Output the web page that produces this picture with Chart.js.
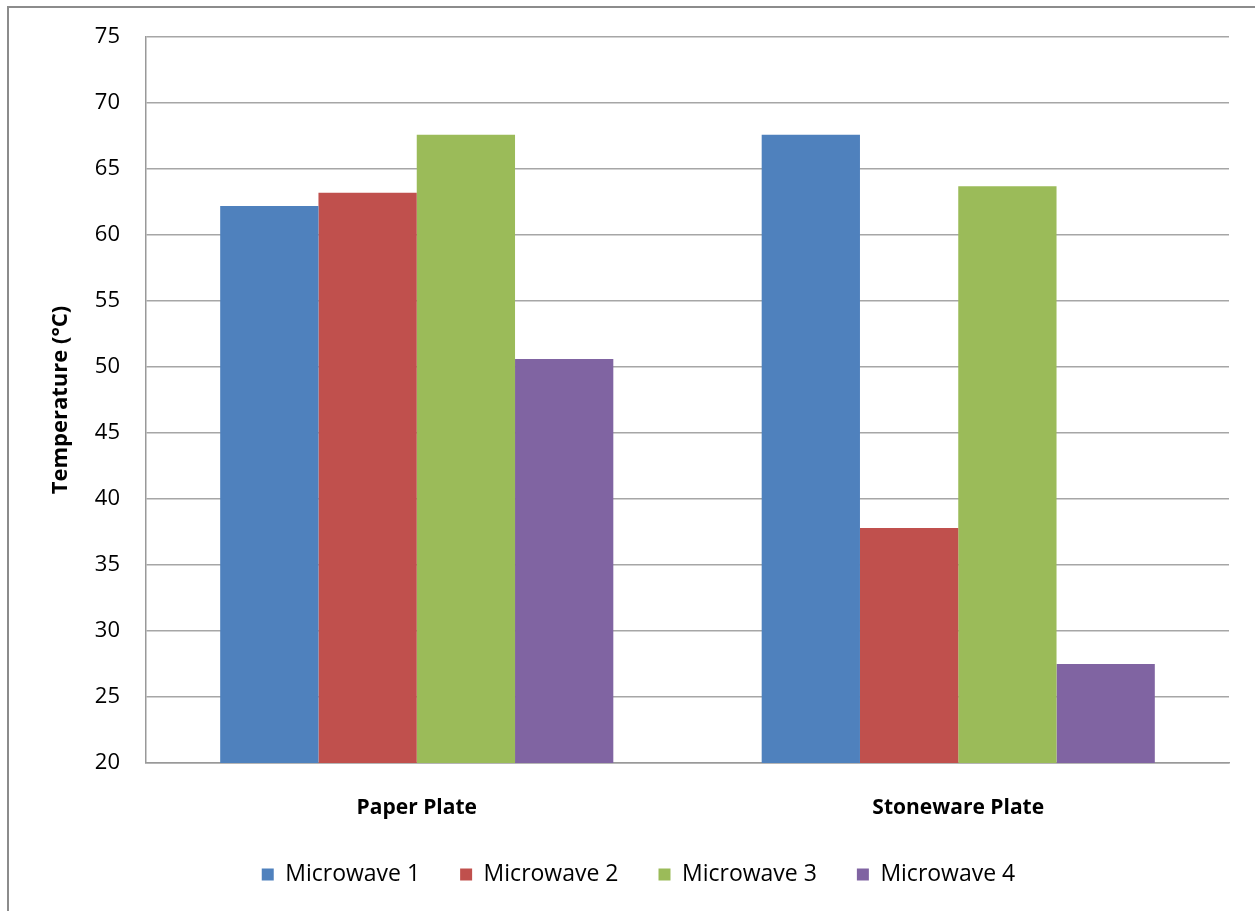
<!DOCTYPE html>
<html>
<head>
<meta charset="utf-8">
<title>Plate temperature by microwave</title>
<script src="https://cdn.jsdelivr.net/npm/chart.js@4.4.1/dist/chart.umd.min.js"></script>
<style>
    html, body {
        margin: 0;
        padding: 0;
        background: #fff;
    }
    #frame {
        position: absolute;
        left: 7px;
        top: 6px;
        width: 1300px;
        height: 1000px;
        border-left: 2px solid #8c8c8c;
        border-top: 2px solid #8c8c8c;
    }
    #wrap {
        position: absolute;
        left: 0;
        top: 0;
        width: 1255px;
        height: 911px;
    }
</style>
</head>
<body>
<div id="frame"></div>
<div id="wrap"><canvas id="tempChart" width="1255" height="911"></canvas></div>

<script>
const plates = ['Paper Plate', 'Stoneware Plate'];

const microwave1 = [62.2, 67.6];
const microwave2 = [63.2, 37.8];
const microwave3 = [67.6, 63.7];
const microwave4 = [50.6, 27.5];

const seriesNames = ['Microwave 1', 'Microwave 2', 'Microwave 3', 'Microwave 4'];
const seriesColors = ['#4f81bd', '#c0504d', '#9bbb59', '#8064a2'];

const yTicks = [20, 25, 30, 35, 40, 45, 50, 55, 60, 65, 70, 75];

const fontFamily = '"Open Sans", "Liberation Sans", sans-serif';

const values = [microwave1, microwave2, microwave3, microwave4];

const datasets = seriesNames.map((name, i) => ({
    label: name,
    data: values[i],
    backgroundColor: seriesColors[i],
    borderWidth: 0,
    barPercentage: 1.0,
    categoryPercentage: 0.726
}));

// legend row sits a little right of the canvas centre
const legendNudge = {
    id: 'legendNudge',
    afterLayout(chart) {
        const lg = chart.legend;
        if (!lg) return;
        lg.left += 24;
        lg.right += 24;
    }
};

const ctx = document.getElementById('tempChart');

new Chart(ctx, {
    type: 'bar',
    data: {
        labels: plates,
        datasets: datasets
    },
    options: {
        responsive: false,
        animation: false,
        layout: {
            padding: { top: 37, right: 26, bottom: 15, left: 0 }
        },
        plugins: {
            legend: {
                position: 'bottom',
                labels: {
                    boxWidth: 12,
                    boxHeight: 12,
                    padding: 40,
                    color: '#000',
                    font: { family: fontFamily, size: 23 }
                }
            },
            tooltip: { enabled: false }
        },
        scales: {
            x: {
                grid: { display: false },
                border: { display: true, color: '#999', width: 1.5 },
                ticks: {
                    color: '#000',
                    padding: 24,
                    font: { family: fontFamily, size: 21, weight: 'bold' }
                },
                afterFit: scale => { scale.height = 60; }
            },
            y: {
                min: 20,
                max: 75,
                afterBuildTicks: scale => {
                    scale.ticks = yTicks.map(v => ({ value: v }));
                },
                afterFit: scale => {
                    scale.width = 146;
                    scale.paddingTop = 0;
                    scale.paddingBottom = 0;
                },
                grid: {
                    color: '#a6a6a6',
                    lineWidth: 1.5,
                    drawTicks: false
                },
                border: { display: true, color: '#999', width: 1.5 },
                ticks: {
                    color: '#000',
                    padding: 26,
                    font: { family: fontFamily, size: 22 }
                },
                title: {
                    display: true,
                    text: 'Temperature (°C)',
                    color: '#000',
                    padding: { top: 48, bottom: 0 },
                    font: { family: fontFamily, size: 22, weight: 'bold' }
                }
            }
        }
    },
    plugins: [legendNudge]
});
</script>
</body>
</html>
